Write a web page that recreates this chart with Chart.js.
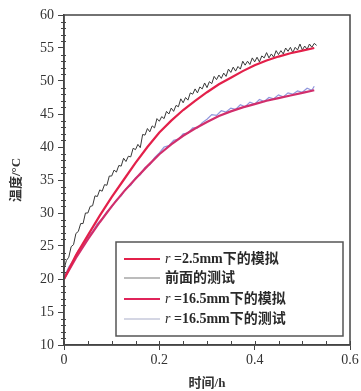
<!DOCTYPE html>
<html>
<head>
<meta charset="utf-8">
<script src="https://cdn.jsdelivr.net/npm/chart.js@4.4.0/dist/chart.umd.min.js"></script>
<style>
html,body{margin:0;padding:0;background:#fff;}
#wrap{width:361px;height:391px;position:relative;}
</style>
</head>
<body>
<div id="wrap"><canvas id="c" width="361" height="391"></canvas></div>
<script>
// ---- data ----
const simTimes = [0,0.025,0.05,0.075,0.1,0.125,0.15,0.175,0.2,0.225,0.25,0.275,0.3,0.325,0.35,0.375,0.4,0.425,0.45,0.475,0.5,0.525];
const sim25 = [20,23.6,26.6,29.6,32.4,35.0,37.6,40.0,42.2,44.0,45.6,47.0,48.3,49.5,50.5,51.5,52.4,53.1,53.7,54.2,54.6,55.0];
const sim165 = [20,23.2,26.0,28.6,31.0,33.2,35.2,37.1,38.9,40.4,41.7,42.8,43.8,44.7,45.4,46.0,46.5,47.0,47.4,47.8,48.2,48.6];

const testFrontTimes = [0,0.005,0.01,0.015,0.02,0.025,0.03,0.035,0.04,0.045,0.05,0.055,0.06,0.065,0.07,0.075,0.08,0.085,0.09,0.095,0.1,0.105,0.11,0.115,0.12,0.125,0.13,0.135,0.14,0.145,0.15,0.155,0.16,0.165,0.17,0.175,0.18,0.185,0.19,0.195,0.2,0.205,0.21,0.215,0.22,0.225,0.23,0.235,0.24,0.245,0.25,0.255,0.26,0.265,0.27,0.275,0.28,0.285,0.29,0.295,0.3,0.305,0.31,0.315,0.32,0.325,0.33,0.335,0.34,0.345,0.35,0.355,0.36,0.365,0.37,0.375,0.38,0.385,0.39,0.395,0.4,0.405,0.41,0.415,0.42,0.425,0.43,0.435,0.44,0.445,0.45,0.455,0.46,0.465,0.47,0.475,0.48,0.485,0.49,0.495,0.5,0.505,0.51,0.515,0.52,0.525,0.53];
const testFront = [21.5,22.8,23.3,24.9,25.2,26.9,27.2,28.4,28.4,30.0,30.0,31.0,31.1,32.6,32.5,33.5,33.3,34.3,34.2,35.6,35.6,36.5,36.2,37.2,37.1,38.3,37.8,38.6,38.5,39.8,39.6,40.4,39.9,41.9,41.8,42.8,42.3,43.2,42.9,44.3,43.9,44.6,44.3,45.4,45.0,45.9,45.4,46.3,46.1,47.3,46.7,47.5,47.1,48.2,48.0,48.8,48.2,49.1,48.8,49.7,49.0,49.9,49.6,50.7,50.2,50.9,50.4,51.2,50.7,51.8,51.3,52.1,51.5,52.2,51.8,53.0,52.4,53.0,52.5,53.5,52.9,53.6,52.9,53.8,53.5,54.3,53.5,54.1,53.6,54.6,54.0,54.6,54.1,55.0,54.5,55.1,54.3,55.1,54.7,55.6,54.7,55.3,54.8,55.6,55.1,55.7,55.4];

const test165Times = [0,0.01,0.02,0.03,0.04,0.05,0.06,0.07,0.08,0.09,0.1,0.11,0.12,0.13,0.14,0.15,0.16,0.17,0.18,0.19,0.2,0.21,0.22,0.23,0.24,0.25,0.26,0.27,0.28,0.29,0.3,0.31,0.32,0.33,0.34,0.35,0.36,0.37,0.38,0.39,0.4,0.41,0.42,0.43,0.44,0.45,0.46,0.47,0.48,0.49,0.5,0.51,0.52,0.525];
const test165 = [20.3,21.8,22.9,24.3,25.2,26.4,27.2,28.4,29.1,30.2,30.9,32.0,32.6,33.7,34.2,35.3,35.8,36.9,37.3,38.4,39.1,40.0,40.2,41.0,41.2,42.0,42.1,42.9,42.9,43.7,44.2,44.9,44.8,45.5,45.3,45.9,45.7,46.4,46.1,46.8,46.5,47.2,46.9,47.5,47.3,47.9,47.6,48.2,48.0,48.5,48.3,48.9,48.6,49.2];

const seriesLabels = ['r =2.5mm下的模拟','前面的测试','r =16.5mm下的模拟','r =16.5mm下的测试'];
const xTickValues = [0,0.2,0.4,0.6];
const yTickValues = [10,15,20,25,30,35,40,45,50,55,60];
const xTitle = '时间/h';
const yTitle = '温度/°C';

function pts(t, v){ return t.map((x,i)=>({x:x, y:v[i]})); }

const SERIF = '"Liberation Serif","Noto Sans CJK SC",serif';
const AXC = '#444';

const framePlugin = {
  id:'frame',
  afterDraw(chart){
    const ctx = chart.ctx, a = chart.chartArea;
    const xs = chart.scales.x, ys = chart.scales.y;
    ctx.save();
    ctx.strokeStyle = AXC; ctx.lineWidth = 1.5;
    ctx.strokeRect(a.left, a.top, a.right-a.left, a.bottom-a.top);
    ctx.lineWidth = 1;
    for(let v=10; v<=60; v+=1){
      if(v%5===0) continue;
      const y = Math.round(ys.getPixelForValue(v))+0.5;
      ctx.beginPath(); ctx.moveTo(a.left-3,y); ctx.lineTo(a.left+2,y); ctx.stroke();
    }
    for(let k=0;k<=12;k++){
      const v = k*0.05;
      if(k%4===0) continue;
      const x = Math.round(xs.getPixelForValue(v))+0.5;
      ctx.beginPath(); ctx.moveTo(x,a.bottom); ctx.lineTo(x,a.bottom-4); ctx.stroke();
    }
    xTickValues.forEach(v=>{
      const x = Math.round(xs.getPixelForValue(v))+0.5;
      ctx.beginPath(); ctx.moveTo(x,a.bottom); ctx.lineTo(x,a.bottom-4); ctx.stroke();
    });
    // legend
    const bx=116, by=242, bw=227, bh=94;
    ctx.fillStyle='#fff';
    ctx.fillRect(bx,by,bw,bh);
    ctx.strokeStyle='#555'; ctx.lineWidth=1.5;
    ctx.strokeRect(bx,by,bw,bh);
    const rows=[259,278,299,319];
    chart.data.datasets.forEach((ds,i)=>{
      const y=rows[i];
      ctx.strokeStyle = ds.legendColor; ctx.lineWidth = ds.legendWidth;
      ctx.beginPath(); ctx.moveTo(124,y); ctx.lineTo(160,y); ctx.stroke();
      ctx.fillStyle='#2a2a2a';
      ctx.textBaseline='middle'; ctx.textAlign='left';
      let label = ds.label, x=165;
      if(label.startsWith('r ')){
        ctx.font = 'italic 14px '+SERIF;
        ctx.fillText('r', x, y);
        x += ctx.measureText('r ').width;
        label = label.slice(2);
      }
      ctx.font = 'bold 14px '+SERIF;
      ctx.fillText(label, x, y);
    });
    ctx.restore();
  }
};

new Chart(document.getElementById('c'), {
  type:'line',
  data:{ datasets:[
    {label:seriesLabels[0], data:pts(simTimes,sim25), borderColor:'#e3204a', borderWidth:2.2, legendColor:'#e3204a', legendWidth:2.2, order:1},
    {label:seriesLabels[1], data:pts(testFrontTimes,testFront), borderColor:'#383838', borderWidth:1, legendColor:'#7a7a7a', legendWidth:1.2, order:2},
    {label:seriesLabels[2], data:pts(simTimes,sim165), borderColor:'#d12e6c', borderWidth:2.2, legendColor:'#e0245a', legendWidth:2.2, order:1},
    {label:seriesLabels[3], data:pts(test165Times,test165), borderColor:'#8f96dc', borderWidth:1.2, legendColor:'#a9adc8', legendWidth:1, order:2}
  ]},
  options:{
    responsive:false, animation:false,
    devicePixelRatio:1,
    elements:{ point:{radius:0}, line:{tension:0} },
    layout:{ padding:{ top:15, right:11, left:0, bottom:0 } },
    plugins:{ legend:{display:false}, tooltip:{enabled:false} },
    scales:{
      x:{
        type:'linear', min:0, max:0.6,
        afterBuildTicks(s){ s.ticks = xTickValues.map(v=>({value:v})); },
        afterFit(s){ s.height = 46; },
        ticks:{ font:{family:SERIF, size:14}, color:'#333', padding:2, maxRotation:0,
          callback:(v)=> v===0 ? '0' : String(v) },
        grid:{ drawOnChartArea:false, drawTicks:true, tickLength:5, tickColor:AXC, tickWidth:1 },
        border:{ display:true, color:AXC, width:1.5 },
        title:{ display:true, text:xTitle, font:{family:SERIF, size:13, weight:'bold'}, color:'#333', padding:{top:0,bottom:0} }
      },
      y:{
        type:'linear', min:10, max:60,
        afterBuildTicks(s){ s.ticks = yTickValues.map(v=>({value:v})); },
        afterFit(s){ s.width = 64; },
        ticks:{ font:{family:SERIF, size:14}, color:'#333', padding:4 },
        grid:{ drawOnChartArea:false, drawTicks:true, tickLength:6, tickColor:AXC, tickWidth:1 },
        border:{ display:true, color:AXC, width:1.5 },
        title:{ display:true, text:yTitle, font:{family:SERIF, size:13, weight:'bold'}, color:'#333', padding:{top:9,bottom:0} }
      }
    }
  },
  plugins:[framePlugin]
});
</script>
</body>
</html>
